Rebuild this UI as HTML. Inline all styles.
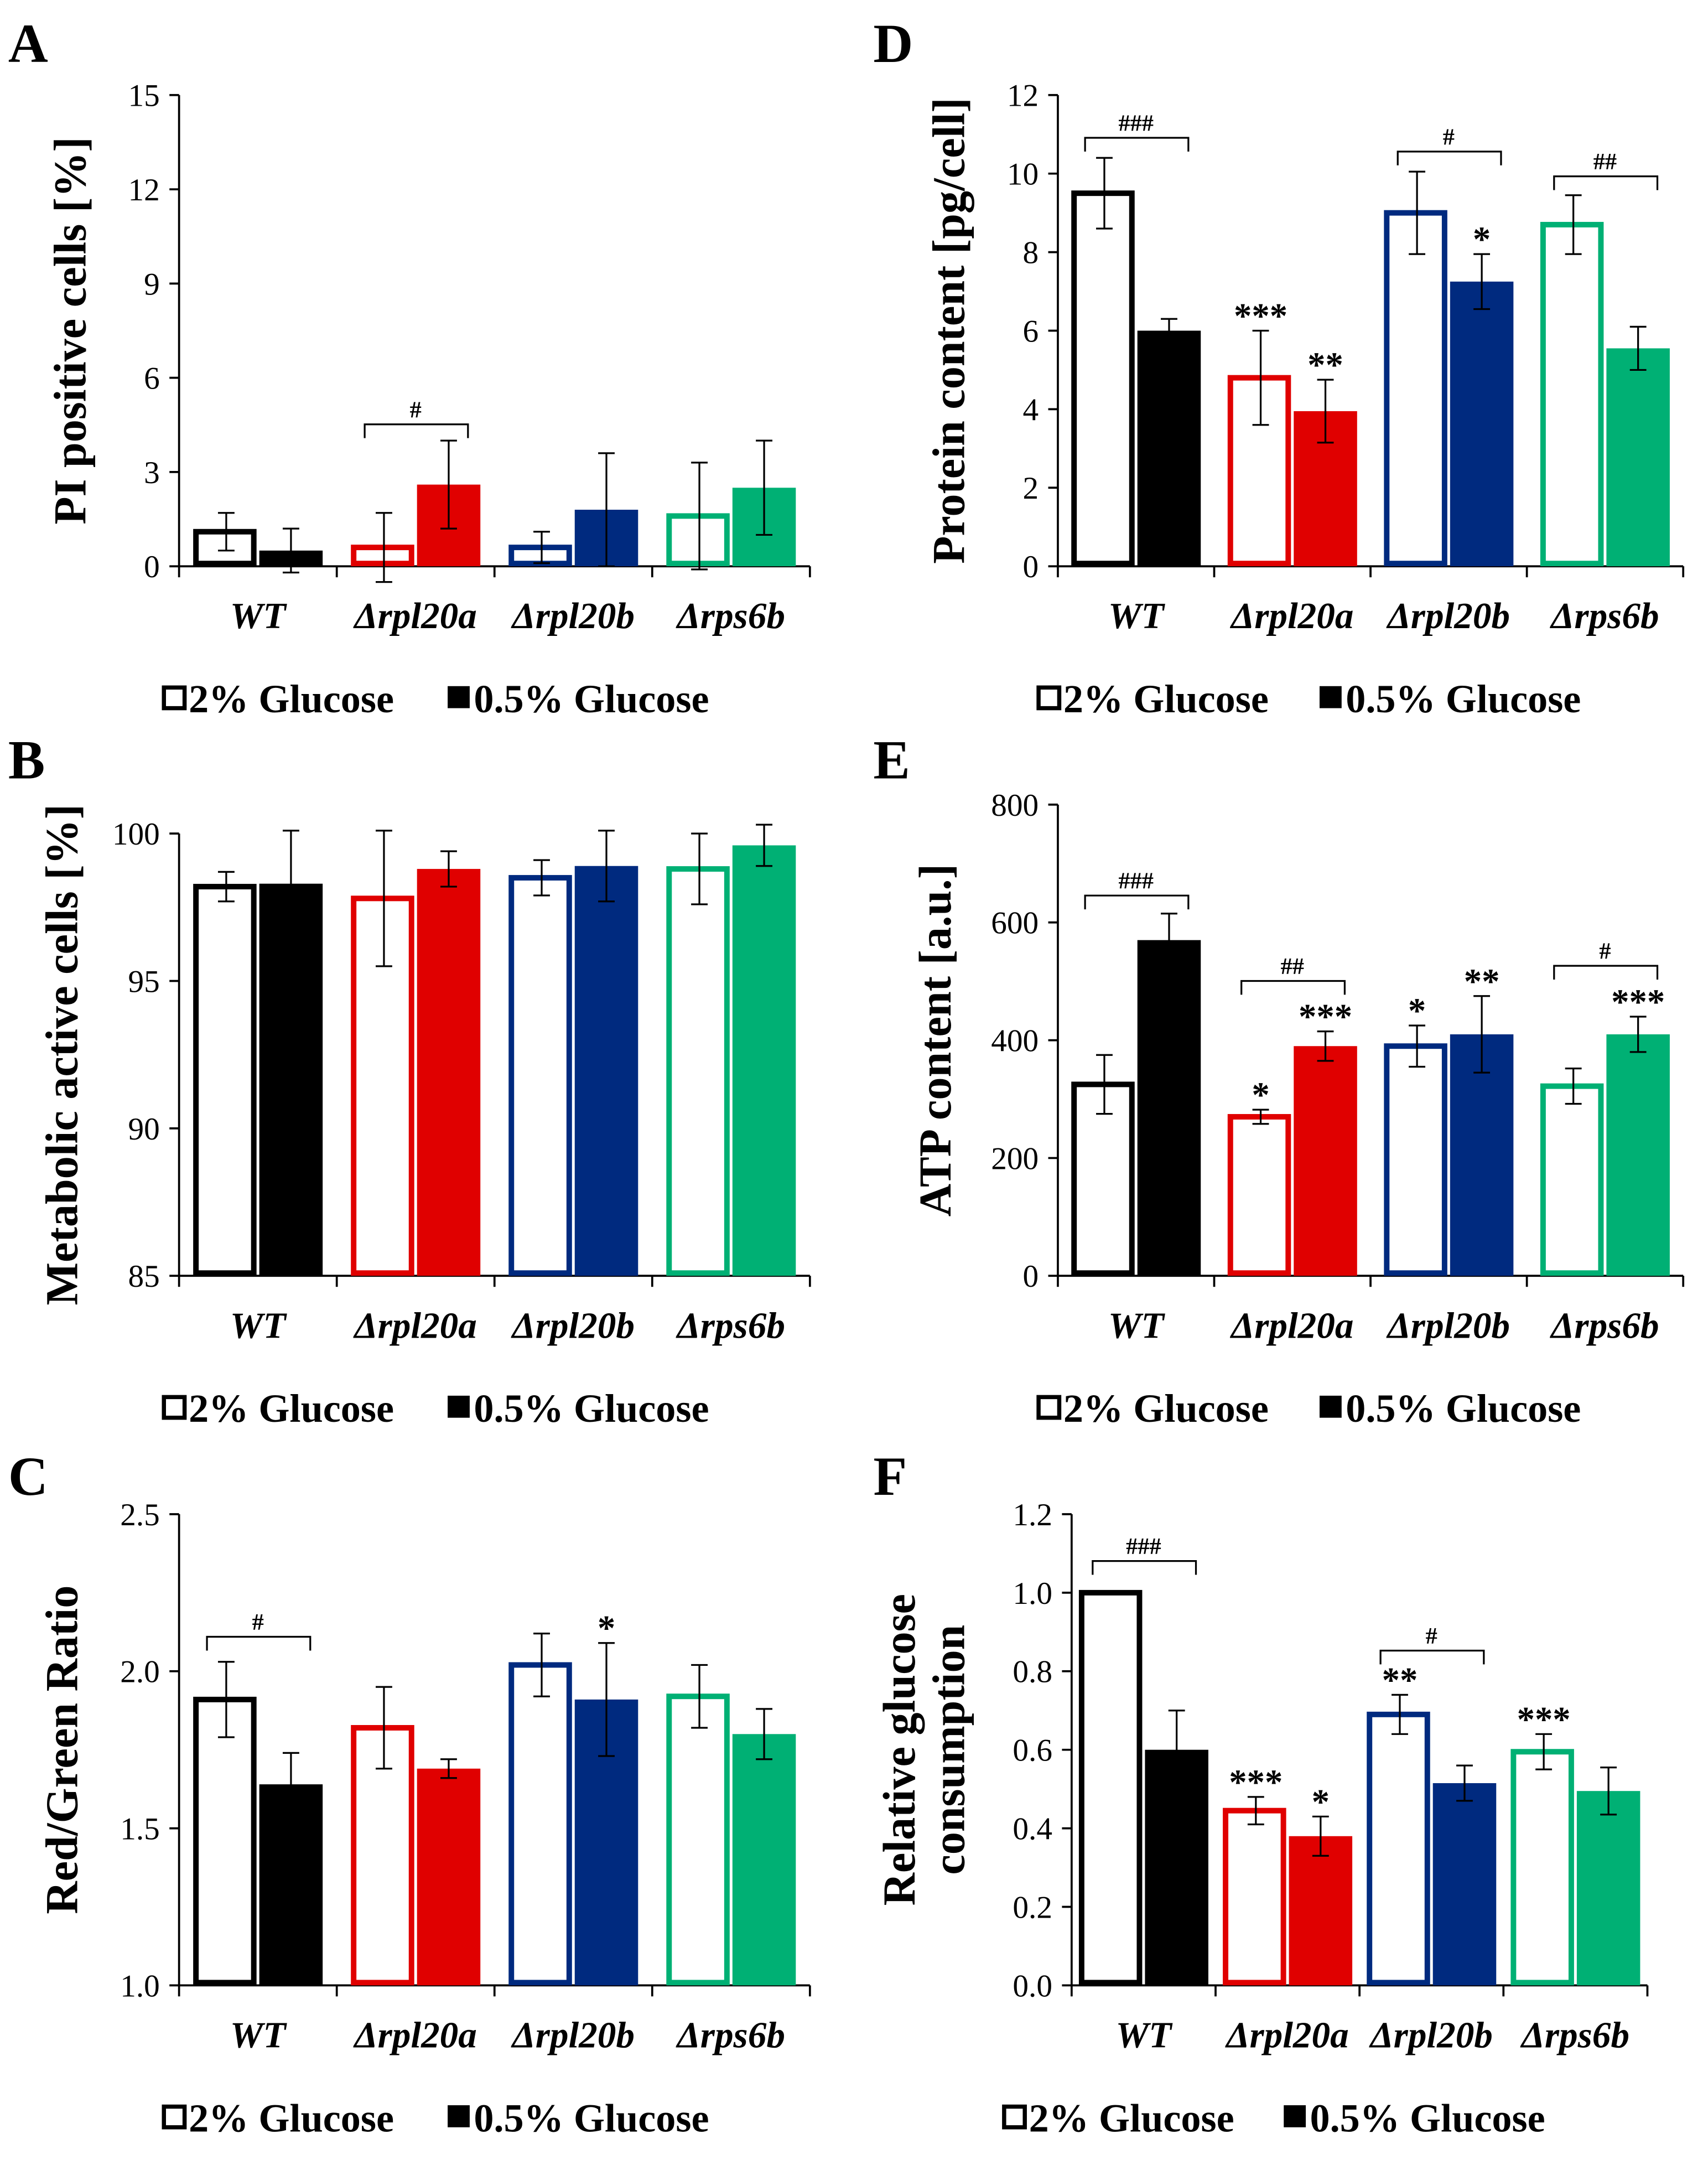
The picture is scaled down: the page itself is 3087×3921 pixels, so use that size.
<!DOCTYPE html>
<html><head><meta charset="utf-8">
<style>html,body{margin:0;padding:0;background:#fff}svg{display:block}</style></head>
<body>
<svg id="fig" width="3087" height="3921" viewBox="0 0 1240 1575" xmlns="http://www.w3.org/2000/svg" font-family="'Liberation Serif', serif"></svg>
<script>
const categories = ["WT","\u0394rpl20a","\u0394rpl20b","\u0394rps6b"];
const colors = ["#000000","#e00000","#002a7f","#00b074"];
// Panel A
const aHigh = [1.1,0.6,0.6,1.6], aHighErr=[0.6,1.1,0.5,1.7];
const aLow = [0.5,2.6,1.8,2.5], aLowErr=[0.7,1.4,1.8,1.5];
const aTicks = ["0","3","6","9","12","15"];
// Panel B
const bHigh=[98.2,97.8,98.5,98.8], bHighErr=[0.5,2.3,0.6,1.2];
const bLow=[98.3,98.8,98.9,99.6], bLowErr=[1.8,0.6,1.2,0.7];
const bTicks=["85","90","95","100"];
// Panel C
const cHigh=[1.91,1.82,2.02,1.92], cHighErr=[0.12,0.13,0.10,0.10];
const cLow=[1.64,1.69,1.91,1.80], cLowErr=[0.10,0.03,0.18,0.08];
const cTicks=["1.0","1.5","2.0","2.5"];
// Panel D
const dHigh=[9.5,4.8,9.0,8.7], dHighErr=[0.9,1.2,1.05,0.75];
const dLow=[6.0,3.95,7.25,5.55], dLowErr=[0.3,0.8,0.7,0.55];
const dTicks=["0","2","4","6","8","10","12"];
// Panel E
const eHigh=[325,270,390,322], eHighErr=[50,12,35,30];
const eLow=[570,390,410,410], eLowErr=[45,25,65,30];
const eTicks=["0","200","400","600","800"];
// Panel F
const fHigh=[1.0,0.445,0.69,0.595], fHighErr=[0,0.035,0.05,0.045];
const fLow=[0.6,0.38,0.515,0.495], fLowErr=[0.1,0.05,0.045,0.06];
const fTicks=["0.0","0.2","0.4","0.6","0.8","1.0","1.2"];

const NS="http://www.w3.org/2000/svg";
const svg=document.getElementById('fig');
function mk(tag,attrs,parent,text){const e=document.createElementNS(NS,tag);for(const k in attrs)e.setAttribute(k,attrs[k]);if(text!==undefined)e.textContent=text;(parent||svg).appendChild(e);return e;}

function panel(p){
  const g=mk('g',{});
  
  
  const Y=v=>p.y0-(v-p.min)/(p.max-p.min)*(p.y0-p.y1);
  const L=mk('text',{x:p.letter[0],y:p.letter[1],'font-size':40,'font-weight':'bold'},g,p.id);
  
  
  const ax=mk('line',{x1:p.ax,y1:p.y1,x2:p.ax,y2:p.y0,stroke:'#000','stroke-width':1.5},g);
  
  
  const n=p.ticks.length;
  p.ticks.forEach((t,i)=>{
    const v=p.min+(p.max-p.min)*i/(n-1);const yy=Y(v);
    mk('line',{x1:p.ax-7,y1:yy,x2:p.ax,y2:yy,stroke:'#000','stroke-width':1.5},g);
    const tl=mk('text',{x:p.ax-14,y:yy+8,'font-size':23,'text-anchor':'end'},g,t);
    
    
  });
  const xa=mk('line',{x1:p.ax,y1:p.y0,x2:p.ax+4*p.gw,y2:p.y0,stroke:'#000','stroke-width':1.5},g);
  
  
  for(let i=0;i<=4;i++)mk('line',{x1:p.ax+i*p.gw,y1:p.y0,x2:p.ax+i*p.gw,y2:p.y0+8,stroke:'#000','stroke-width':1.5},g);
  p.title.forEach((s,i)=>{
    const tx=p.tx+i*36;const ty=(p.y0+p.y1)/2;
    const t=mk('text',{x:tx,y:ty,'font-size':33,'font-weight':'bold','text-anchor':'middle',transform:`rotate(-90 ${tx} ${ty})`},g,s);
    
    
  });
  const bw=p.bw;
  categories.forEach((c,i)=>{
    const cx=p.ax+p.gw*(i+0.5);
    const lbl=mk('text',{x:cx,y:p.y0+45,'font-size':27,'font-weight':'bold','font-style':'italic','text-anchor':'middle'},g,c);
    
    
    const base=p.min;
    const hv=p.high[i],lv=p.low[i];
    const r1=mk('rect',{x:cx-bw+1,y:Y(hv),width:bw-4,height:Y(base)-Y(hv)-2,fill:'#fff',stroke:colors[i],'stroke-width':4},g);
    
    
    const r2=mk('rect',{x:cx+1,y:Y(lv),width:bw,height:Y(base)-Y(lv),fill:colors[i]},g);
    
    
    [[cx-bw/2,hv,p.highErr[i]],[cx+1+bw/2,lv,p.lowErr[i]]].forEach(([x,v,e])=>{
      if(e<=0)return;
      const eb=mk('path',{d:`M${x},${Y(v-e)}V${Y(v+e)}M${x-6},${Y(v+e)}H${x+6}M${x-6},${Y(v-e)}H${x+6}`,stroke:'#000','stroke-width':1.3,fill:'none'},g);
      
      
    });
  });
  (p.stars||[]).forEach(([i,s,str])=>{
    const cx=p.ax+p.gw*(i+0.5);
    const x=s?cx+1+bw/2:cx-bw/2;
    const v=s?p.low[i]+p.lowErr[i]:p.high[i]+p.highErr[i];
    const t=mk('text',{x:x,y:Y(v)-2,'font-size':26,'font-weight':'bold','text-anchor':'middle'},g,str);
    
    
  });
  (p.brackets||[]).forEach(([i,yy,str])=>{
    const cx=p.ax+p.gw*(i+0.5);const x1=cx-bw/2-14,x2=cx+1+bw/2+14;
    const b=mk('path',{d:`M${x1},${yy+10}V${yy}H${x2}V${yy+10}`,stroke:'#000','stroke-width':1.3,fill:'none'},g);
    
    
    const t=mk('text',{x:cx,y:yy-5,'font-size':17,'font-weight':'bold','text-anchor':'middle'},g,str);
    
    
  });
  const [lx,ly,l2]=p.legend;
  const lg=mk('g',{},g);
  
  
  mk('rect',{x:lx+2,y:ly-18,width:15,height:15,fill:'#fff',stroke:'#000','stroke-width':3},lg);
  mk('text',{x:lx+20,y:ly,'font-size':29,'font-weight':'bold'},lg,'2% Glucose');
  mk('rect',{x:l2,y:ly-19,width:16,height:16,fill:'#000'},lg);
  mk('text',{x:l2+19,y:ly,'font-size':29,'font-weight':'bold'},lg,'0.5% Glucose');
}
panel({id:'A',letter:[6,45],ax:130,y0:411,y1:69,min:0,max:15,gw:114.5,bw:46,ticks:aTicks,high:aHigh,highErr:aHighErr,low:aLow,lowErr:aLowErr,title:['PI positive cells [%]'],tx:62,legend:[117,517,325],brackets:[[1,308,'#']]});
panel({id:'B',letter:[6,565],ax:130,y0:926,y1:605,min:85,max:100,gw:114.5,bw:46,ticks:bTicks,high:bHigh,highErr:bHighErr,low:bLow,lowErr:bLowErr,title:['Metabolic active cells [%]'],tx:56,legend:[117,1032,325]});
panel({id:'C',letter:[6,1085],ax:130,y0:1441,y1:1099,min:1.0,max:2.5,gw:114.5,bw:46,ticks:cTicks,high:cHigh,highErr:cHighErr,low:cLow,lowErr:cLowErr,title:['Red/Green Ratio'],tx:56,legend:[117,1547,325],brackets:[[0,1188,'#']],stars:[[2,1,'*']]});
panel({id:'D',letter:[634,45],ax:768,y0:411,y1:69,min:0,max:12,gw:113.5,bw:46,ticks:dTicks,high:dHigh,highErr:dHighErr,low:dLow,lowErr:dLowErr,title:['Protein content [pg/cell]'],tx:700,legend:[752,517,958],brackets:[[0,100,'###'],[2,110,'#'],[3,128,'##']],stars:[[1,0,'***'],[1,1,'**'],[2,1,'*']]});
panel({id:'E',letter:[634,565],ax:768,y0:926,y1:584,min:0,max:800,gw:113.5,bw:46,ticks:eTicks,high:eHigh,highErr:eHighErr,low:eLow,lowErr:eLowErr,title:['ATP content [a.u.]'],tx:690,legend:[752,1032,958],brackets:[[0,650,'###'],[1,712,'##'],[3,701,'#']],stars:[[1,0,'*'],[1,1,'***'],[2,0,'*'],[2,1,'**'],[3,1,'***']]});
panel({id:'F',letter:[634,1085],ax:778,y0:1441,y1:1099,min:0,max:1.2,gw:104.5,bw:46,ticks:fTicks,high:fHigh,highErr:fHighErr,low:fLow,lowErr:fLowErr,title:['Relative glucose','consumption'],tx:664,legend:[727,1547,932],brackets:[[0,1133,'###'],[2,1198,'#']],stars:[[1,0,'***'],[1,1,'*'],[2,0,'**'],[3,0,'***']]});
</script>
</body></html>
